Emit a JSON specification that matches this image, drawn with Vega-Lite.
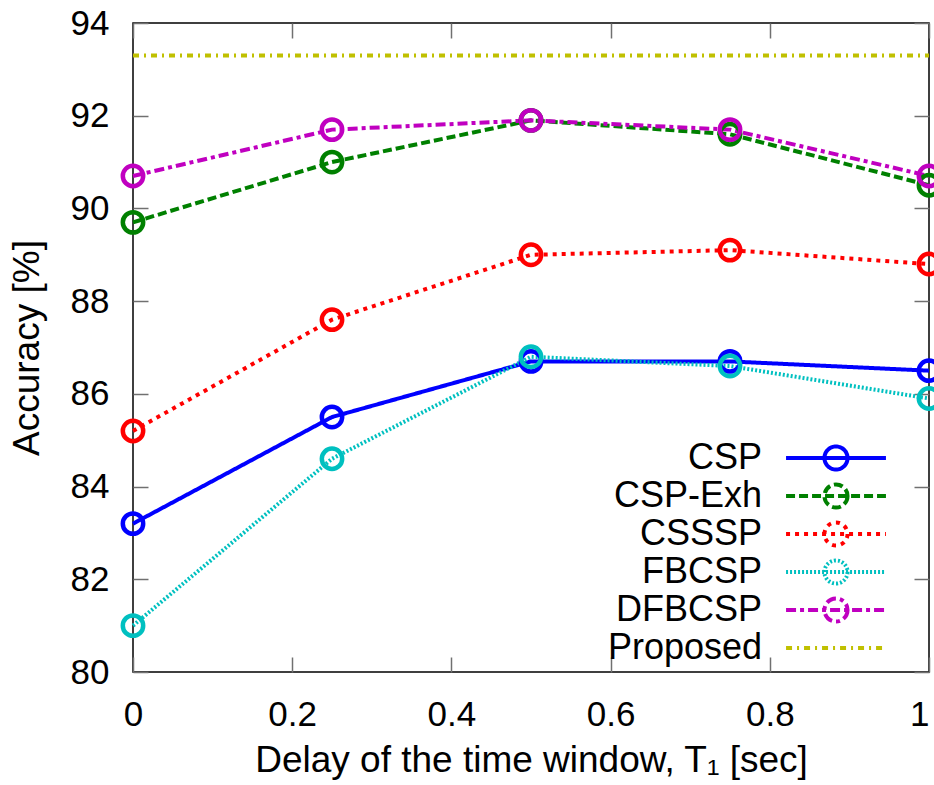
{
  "$schema": "https://vega.github.io/schema/vega-lite/v6.json",
  "width": 796,
  "height": 649,
  "autosize": {"type": "none"},
  "padding": {"left": 133, "top": 23, "right": 5, "bottom": 113},
  "background": "white",
  "config": {
    "font": "Liberation Sans",
    "view": {"stroke": "black", "strokeWidth": 1.5},
    "axis": {
      "grid": false,
      "domain": false,
      "tickSize": -15,
      "tickColor": "#707070",
      "tickWidth": 1.5,
      "labelFontSize": 35,
      "labelColor": "black",
      "labelFlush": false,
      "titleFontSize": 37,
      "titleFontWeight": "normal",
      "titleColor": "black",
      "labelPadding": 40
    }
  },
  "data": {
    "values": [
      {"method": "CSP", "t": 0, "acc": 83.2},
      {"method": "CSP", "t": 0.25, "acc": 85.5},
      {"method": "CSP", "t": 0.5, "acc": 86.7},
      {"method": "CSP", "t": 0.75, "acc": 86.7},
      {"method": "CSP", "t": 1, "acc": 86.5},
      {"method": "CSP-Exh", "t": 0, "acc": 89.7},
      {"method": "CSP-Exh", "t": 0.25, "acc": 91.0},
      {"method": "CSP-Exh", "t": 0.5, "acc": 91.9},
      {"method": "CSP-Exh", "t": 0.75, "acc": 91.6},
      {"method": "CSP-Exh", "t": 1, "acc": 90.5},
      {"method": "CSSSP", "t": 0, "acc": 85.2},
      {"method": "CSSSP", "t": 0.25, "acc": 87.6},
      {"method": "CSSSP", "t": 0.5, "acc": 89.0},
      {"method": "CSSSP", "t": 0.75, "acc": 89.1},
      {"method": "CSSSP", "t": 1, "acc": 88.8},
      {"method": "FBCSP", "t": 0, "acc": 81.0},
      {"method": "FBCSP", "t": 0.25, "acc": 84.6},
      {"method": "FBCSP", "t": 0.5, "acc": 86.8},
      {"method": "FBCSP", "t": 0.75, "acc": 86.6},
      {"method": "FBCSP", "t": 1, "acc": 85.9},
      {"method": "DFBCSP", "t": 0, "acc": 90.7},
      {"method": "DFBCSP", "t": 0.25, "acc": 91.7},
      {"method": "DFBCSP", "t": 0.5, "acc": 91.9},
      {"method": "DFBCSP", "t": 0.75, "acc": 91.7},
      {"method": "DFBCSP", "t": 1, "acc": 90.7},
      {"method": "Proposed", "t": 0, "acc": 93.3},
      {"method": "Proposed", "t": 1, "acc": 93.3}
    ]
  },
  "layer": [
    {
      "mark": {"type": "line", "strokeWidth": 4, "clip": false},
      "encoding": {
        "x": {
          "field": "t", "type": "quantitative",
          "scale": {"domain": [0, 1], "nice": false},
          "axis": {"orient": "bottom", "values": [0, 0.2, 0.4, 0.6, 0.8, 1], "format": "~g", "labelAlign": {"expr": "datum.value == 1 ? 'right' : 'center'"}, "title": "Delay of the time window, T₁ [sec]", "titlePadding": 10}
        },
        "y": {
          "field": "acc", "type": "quantitative",
          "scale": {"domain": [80, 94], "nice": false, "zero": false},
          "axis": {"orient": "left", "values": [80, 82, 84, 86, 88, 90, 92, 94], "title": "Accuracy [%]", "labelPadding": 39, "titlePadding": 24}
        },
        "color": {
          "field": "method", "type": "nominal",
          "scale": {"domain": ["CSP", "CSP-Exh", "CSSSP", "FBCSP", "DFBCSP", "Proposed"], "range": ["#0000ff", "#008000", "#ff0000", "#00c0c0", "#c000c0", "#c0c000"]},
          "legend": {
            "title": null,
            "orient": "none",
            "legendX": 685,
            "legendY": 417,
            "padding": 0,
            "rowPadding": -3,
            "symbolType": "M-3.33,0L3.33,0M0.77,0A0.77,0.77 0 1,1 -0.77,0A0.77,0.77 0 1,1 0.77,0",
            "symbolSize": 900,
            "symbolStrokeWidth": 4,
            "symbolOffset": 0,
            "labelAlign": "right",
            "labelBaseline": "middle",
            "labelOffset": -92,
            "labelFontSize": 36,
            "labelColor": "black",
            "labelLimit": 400,
            "encode": {
              "symbols": {
                "update": {
                  "shape": [{"test": "datum.value === 'Proposed'", "value": "M-3.33,0L3.33,0"}, {"value": "M-3.33,0L3.33,0M0.77,0A0.77,0.77 0 1,1 -0.77,0A0.77,0.77 0 1,1 0.77,0"}],
                  "size": {"value": 900},
                  "strokeWidth": {"value": 4},
                  "fill": {"value": "transparent"}
                }
              }
            }
          }
        },
        "strokeDash": {
          "field": "method", "type": "nominal",
          "scale": {"domain": ["CSP", "CSP-Exh", "CSSSP", "FBCSP", "DFBCSP", "Proposed"], "range": [[1, 0], [9, 4], [4, 5], [2, 2], [10, 4, 4, 4], [6, 5, 2, 5]]}
        }
      }
    },
    {
      "transform": [{"filter": "datum.method !== 'Proposed'"}],
      "mark": {"type": "point", "shape": "circle", "filled": false, "size": 415, "strokeWidth": 4.5, "opacity": 1, "clip": false},
      "encoding": {
        "x": {"field": "t", "type": "quantitative", "axis": {"orient": "top", "values": [0, 0.2, 0.4, 0.6, 0.8, 1], "labels": false, "title": null}},
        "y": {"field": "acc", "type": "quantitative", "axis": {"orient": "right", "values": [80, 82, 84, 86, 88, 90, 92, 94], "labels": false, "title": null}},
        "color": {"field": "method", "type": "nominal"}
      }
    }
  ],
  "resolve": {"axis": {"x": "independent", "y": "independent"}}
}
